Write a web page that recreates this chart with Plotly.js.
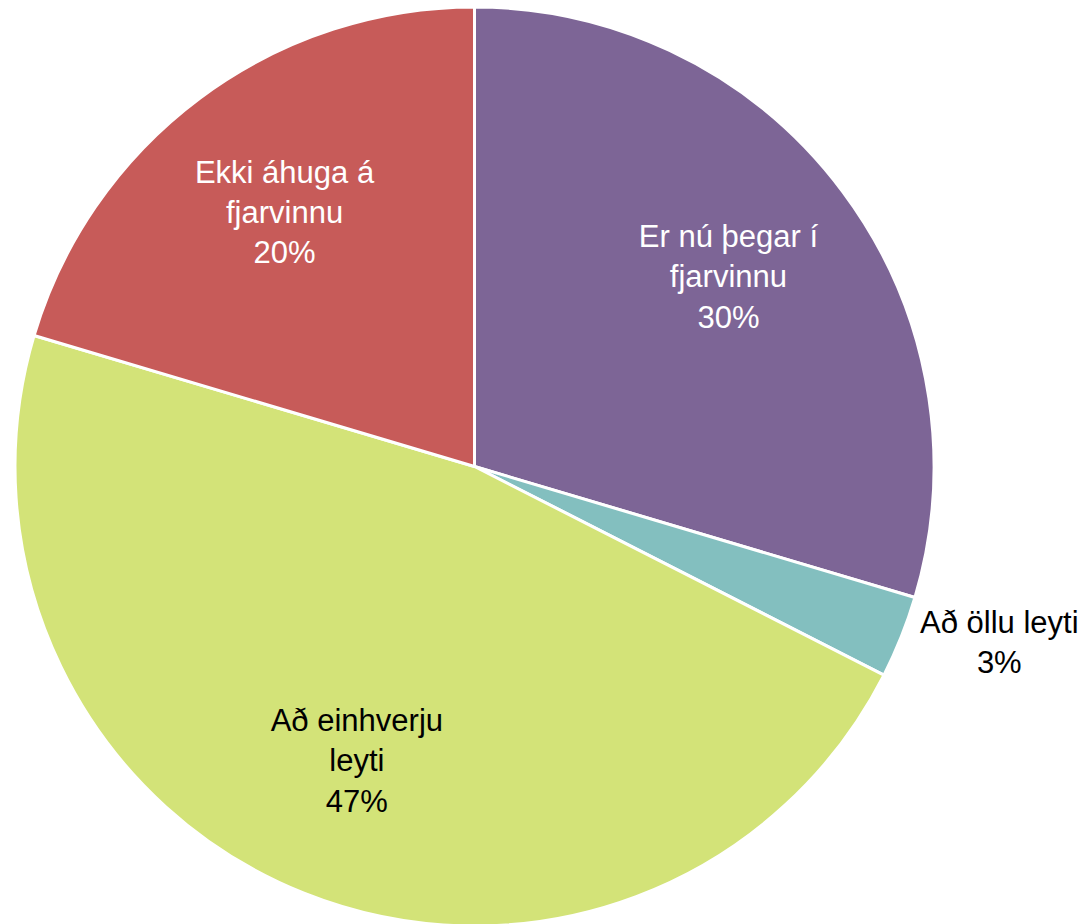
<!DOCTYPE html>
<html>
<head>
<meta charset="utf-8">
<script src="https://cdn.plot.ly/plotly-3.0.1.min.js"></script>
<style>
html, body { margin: 0; padding: 0; background: #ffffff; overflow: hidden; }
#chart { width: 1089px; height: 930px; }
</style>
</head>
<body>
<div id="chart"></div>
<script>
const categories = ["Er nú þegar í fjarvinnu", "Að öllu leyti", "Að einhverju leyti", "Ekki áhuga á fjarvinnu"];
const displayLabels = ["Er nú þegar í<br>fjarvinnu", "Að öllu leyti", "Að einhverju<br>leyti", "Ekki áhuga á<br>fjarvinnu"];
const values = [29.6, 2.9, 47.1, 20.4];
const colors = ["#7D6596", "#83BFBF", "#D3E378", "#C75B59"];
const textPositions = ["inside", "outside", "inside", "inside"];
const textColors = ["#ffffff", "#000000", "#000000", "#ffffff"];

const H = 930;
const FONT = "Liberation Sans, Arial, sans-serif";
const domain = { x: [15 / 1089, 934 / 1089], y: [1 - 926 / H, 1 - 7 / H] };

// Base pie: the coloured slices
const slices = {
  type: "pie",
  labels: categories,
  values: values,
  textinfo: "none",
  sort: false,
  direction: "clockwise",
  rotation: 0,
  marker: { colors: colors, line: { color: "#ffffff", width: 3 } },
  hoverinfo: "none",
  domain: domain
};

// Transparent ring on top, used only to place the data labels further out
const labelRing = {
  type: "pie",
  labels: categories,
  values: values,
  customdata: displayLabels,
  texttemplate: "%{customdata}<br>%{percent:.0%}",
  textposition: textPositions,
  insidetextorientation: "horizontal",
  textfont: { family: FONT, size: 31, color: textColors },
  sort: false,
  direction: "clockwise",
  rotation: 0,
  hole: 0.38,
  marker: { colors: colors.map(() => "rgba(0,0,0,0)"), line: { width: 0 } },
  hoverinfo: "none",
  domain: domain
};

Plotly.newPlot("chart", [slices, labelRing], {
  width: 1089,
  height: H,
  margin: { l: 0, r: 0, t: 0, b: 0 },
  paper_bgcolor: "#ffffff",
  showlegend: false,
  font: { family: FONT }
}, { displayModeBar: false, staticPlot: true });
</script>
</body>
</html>
